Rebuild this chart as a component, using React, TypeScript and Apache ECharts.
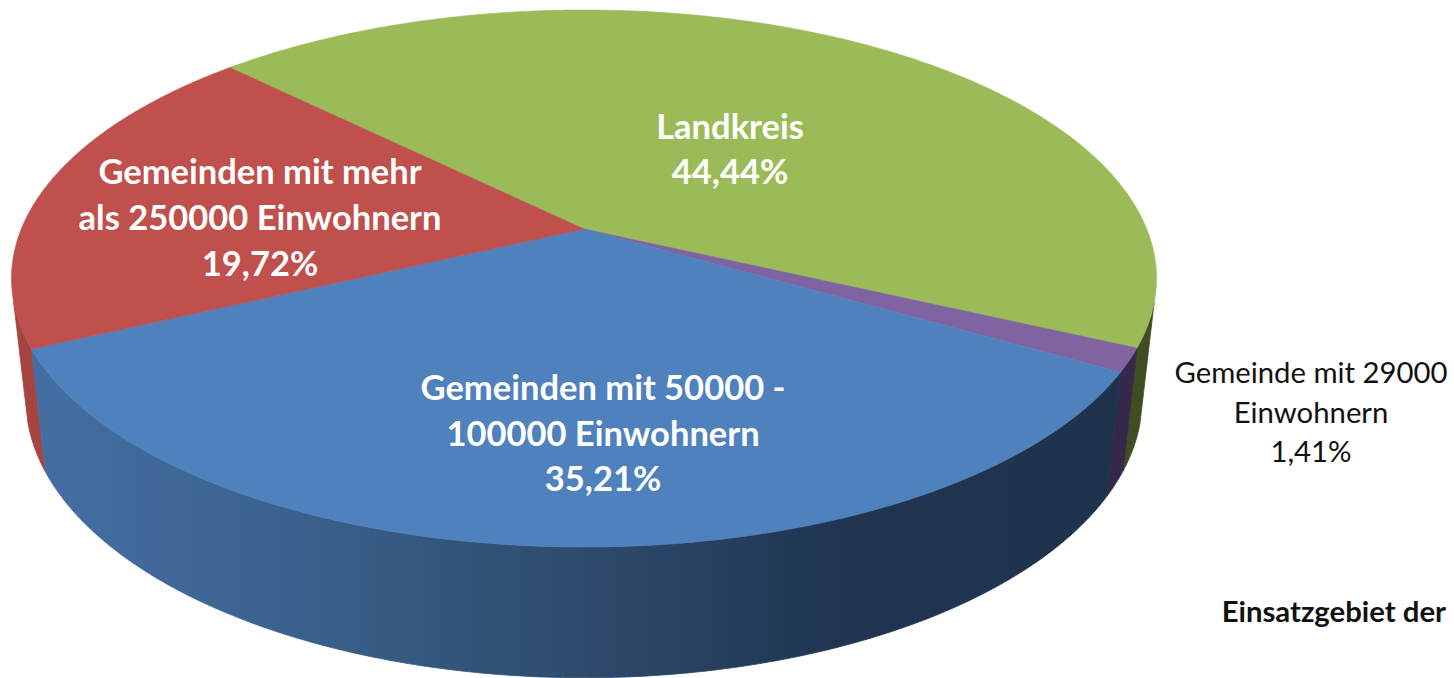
import React, { useEffect, useRef } from "react";
import * as echarts from "echarts";

const categories = ["Landkreis", "Gemeinde mit 29000 Einwohnern", "Gemeinden mit 50000 - 100000 Einwohnern", "Gemeinden mit mehr als 250000 Einwohnern"];
const shares = [44.44, 1.41, 35.21, 19.72];
const labelLines = [
  ["Landkreis", "44,44%"],
  ["Gemeinde mit 29000", "Einwohnern", "1,41%"],
  ["Gemeinden mit 50000 -", "100000 Einwohnern", "35,21%"],
  ["Gemeinden mit mehr", "als 250000 Einwohnern", "19,72%"],
];

// layout
const W = 1454, H = 678;
const CX = 584, CY = 229, A = 562.7, B = 259.4, K = 0.1844;
const START = 225.5;
const LOW_SX = 0.975, LOW_SY = 1.04, LOW_DY = 118;
const VIS_FROM = 15, VIS_TO = 165;
const topColors = ["#9BBB59", "#8064A2", "#4F81BD", "#BF504D"];
const wallColors: any[] = [
  "#404D22",
  "#35284A",
  { type: "linear", x: 45, y: 0, x2: 1100, y2: 0, global: true, colorStops: [
    { offset: 0, color: "#446EA2" },
    { offset: 0.2, color: "#3C6491" },
    { offset: 0.5, color: "#2E4C6E" },
    { offset: 0.75, color: "#203550" },
    { offset: 1, color: "#1F334D" },
  ] },
  "#A54542",
];
const wallOrder = [0, 3, 1, 2];
const labelPos = [
  { x: 730, y: 148, size: 34.5, weight: "bold", color: "#fff", lh: 45 },
  { x: 1311, y: 411, size: 29.3, weight: "normal", color: "#111", lh: 39.5 },
  { x: 603, y: 432, size: 34.5, weight: "bold", color: "#fff", lh: 45.5 },
  { x: 260, y: 216, size: 34.5, weight: "bold", color: "#fff", lh: 46 },
];

const sum = shares.reduce((a, b) => a + b, 0);
const spans = shares.map((s) => (s / sum) * 360);
const starts = spans.map((_, i) => START + spans.slice(0, i).reduce((a, b) => a + b, 0));

function top(deg: number) {
  const r = (deg * Math.PI) / 180;
  const t = r + ((0.6 * (Math.cos(r) + Math.sin(r))) * Math.PI) / 180;
  const u = Math.cos(t), v = Math.sin(t);
  const d = 1 - K * v;
  return [(A * u) / d, (B * v) / d];
}
const topPt = (deg: number) => { const p = top(deg); return [CX + p[0], CY + p[1]]; };
const lowPt = (deg: number) => { const p = top(deg); return [CX + LOW_SX * p[0], CY + LOW_DY + LOW_SY * p[1]]; };
function arc(a0: number, a1: number, f: (d: number) => number[]) {
  const n = Math.max(4, Math.ceil((a1 - a0) * 2));
  const out: number[][] = [];
  for (let i = 0; i <= n; i++) out.push(f(a0 + ((a1 - a0) * i) / n));
  return out;
}
// the part of a slice's wall that faces the viewer
function visibleRange(a0: number, a1: number) {
  for (const off of [0, 360, 720]) {
    const lo = Math.max(a0, VIS_FROM + off), hi = Math.min(a1, VIS_TO + off);
    if (hi > lo) return [lo, hi];
  }
  return null;
}

export default function App() {
  const ref = useRef<HTMLDivElement>(null);
  useEffect(() => {
    document.body.style.margin = "0";
    const chart = echarts.init(ref.current!, null, { renderer: "svg" });
    const idx = categories.map((_, i) => i);
    chart.setOption({
      animation: false,
      backgroundColor: "#fff",
      series: [
        {
          type: "custom", coordinateSystem: "none", silent: true, clip: false, z: 1,
          data: wallOrder.map((i) => [i, shares[i]]),
          renderItem: (_: any, api: any) => {
            const i = api.value(0);
            const rng = visibleRange(starts[i], starts[i] + spans[i]);
            if (!rng) return null;
            const pts = arc(rng[0], rng[1], topPt).concat(arc(rng[0], rng[1], lowPt).reverse());
            return { type: "polygon", shape: { points: pts }, style: { fill: wallColors[i], stroke: wallColors[i], lineWidth: 0.8 } };
          },
        },
        {
          type: "custom", coordinateSystem: "none", silent: true, clip: false, z: 2,
          data: idx.map((i) => [i, shares[i]]),
          renderItem: (_: any, api: any) => {
            const i = api.value(0);
            const pts = [[CX, CY]].concat(arc(starts[i], starts[i] + spans[i], topPt));
            return { type: "polygon", shape: { points: pts }, style: { fill: topColors[i], stroke: topColors[i], lineWidth: 0.6 } };
          },
        },
        {
          type: "custom", coordinateSystem: "none", silent: true, clip: false, z: 3,
          data: idx.map((i) => [i, shares[i]]),
          renderItem: (_: any, api: any) => {
            const i = api.value(0);
            const p = labelPos[i];
            return {
              type: "text",
              x: p.x, y: p.y,
              style: {
                text: labelLines[i].join("\n"),
                font: `${p.weight} ${p.size}px Lato, "Open Sans", sans-serif`,
                fill: p.color, align: "center", verticalAlign: "middle", lineHeight: p.lh,
              },
            };
          },
        },
      ],
      graphic: [
        { type: "text", right: 8, top: 596, style: { text: "Einsatzgebiet der", font: 'bold 29.3px Lato, "Open Sans", sans-serif', fill: "#111" } },
      ],
    });
    return () => chart.dispose();
  }, []);
  return <div ref={ref} style={{ width: W, height: H, position: "absolute", left: 0, top: 0, overflow: "hidden" }} />;
}
